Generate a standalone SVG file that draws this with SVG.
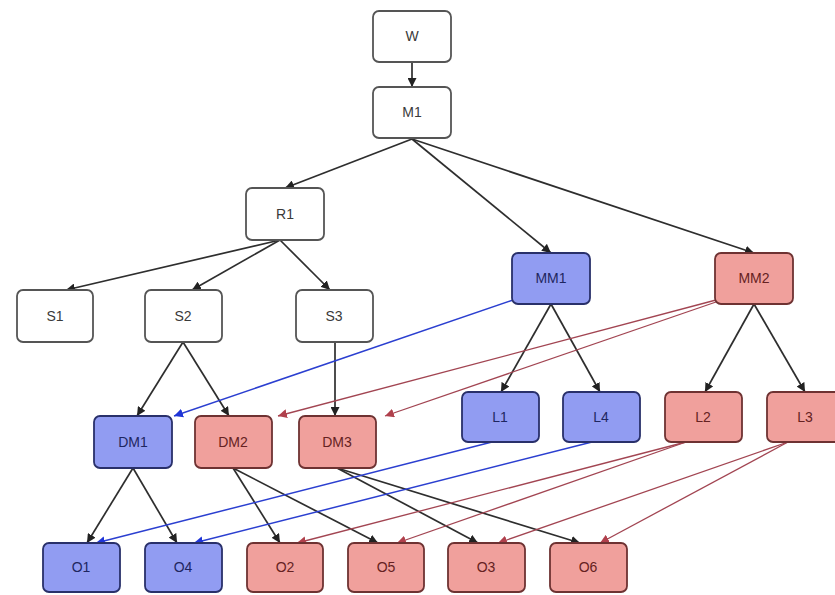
<svg xmlns="http://www.w3.org/2000/svg" width="835" height="595" viewBox="0 0 835 595">
<style>
.n rect{stroke-width:1.8}
.w rect{fill:#ffffff;stroke:#555555}
.b rect{fill:#919cf2;stroke:#29306a}
.r rect{fill:#f0a09c;stroke:#6e3232}
text{font-family:"Liberation Sans",Arial,sans-serif;font-size:14px;text-anchor:middle;dominant-baseline:central}
.w text{fill:#3a3a3a}
.b text{fill:#1e2660}
.r text{fill:#652222}
.k{stroke:#2e2e2e;stroke-width:1.7;fill:none;marker-end:url(#ak)}
.bl{stroke:#2b3fd0;stroke-width:1.5;fill:none;marker-end:url(#ab)}
.rd{stroke:#a24552;stroke-width:1.3;fill:none;marker-end:url(#ar)}
</style>
<defs>
<marker id="ak" viewBox="0 0 10 10" refX="10" refY="5" markerWidth="9" markerHeight="9" markerUnits="userSpaceOnUse" orient="auto"><path d="M0,0L10,5L0,10z" fill="#222222"/></marker>
<marker id="ab" viewBox="0 0 10 10" refX="10" refY="5" markerWidth="9" markerHeight="9" markerUnits="userSpaceOnUse" orient="auto"><path d="M0,0L10,5L0,10z" fill="#1f35d8"/></marker>
<marker id="ar" viewBox="0 0 10 10" refX="10" refY="5" markerWidth="9" markerHeight="9" markerUnits="userSpaceOnUse" orient="auto"><path d="M0,0L10,5L0,10z" fill="#b0404c"/></marker>
</defs>
<g id="edges">
<line class="k" x1="412" y1="62" x2="412" y2="87"/>
<line class="k" x1="412" y1="139" x2="285" y2="188"/>
<line class="k" x1="412" y1="139" x2="551" y2="253"/>
<line class="k" x1="412" y1="139" x2="754" y2="253"/>
<line class="k" x1="280" y1="240" x2="66" y2="290"/>
<line class="k" x1="280" y1="240" x2="192" y2="290"/>
<line class="k" x1="280" y1="240" x2="330" y2="290"/>
<line class="k" x1="183" y1="342" x2="137" y2="416"/>
<line class="k" x1="183" y1="342" x2="229" y2="416"/>
<line class="k" x1="335" y1="342" x2="335" y2="416"/>
<line class="k" x1="551" y1="304" x2="501" y2="392"/>
<line class="k" x1="551" y1="304" x2="600" y2="392"/>
<line class="k" x1="754" y1="304" x2="705" y2="392"/>
<line class="k" x1="754" y1="304" x2="805" y2="392"/>
<line class="k" x1="133" y1="468" x2="87" y2="543"/>
<line class="k" x1="133" y1="468" x2="177" y2="543"/>
<line class="k" x1="233" y1="468" x2="280" y2="543"/>
<line class="k" x1="233" y1="468" x2="378" y2="543"/>
<line class="k" x1="337" y1="468" x2="478" y2="543"/>
<line class="k" x1="337" y1="468" x2="580" y2="543"/>
<line class="bl" x1="513" y1="300" x2="174" y2="416"/>
<line class="rd" x1="716" y1="300" x2="278" y2="416"/>
<line class="rd" x1="716" y1="302" x2="385" y2="416"/>
<line class="bl" x1="492" y1="442" x2="96" y2="543"/>
<line class="bl" x1="592" y1="442" x2="194" y2="543"/>
<line class="rd" x1="686" y1="442" x2="297" y2="543"/>
<line class="rd" x1="686" y1="442" x2="397" y2="543"/>
<line class="rd" x1="788" y1="442" x2="498" y2="543"/>
<line class="rd" x1="788" y1="442" x2="600" y2="543"/>
</g>
<g id="W" class="n w"><rect x="373" y="11" width="78" height="51" rx="6"/><text x="412" y="36">W</text></g>
<g id="M1" class="n w"><rect x="373" y="87" width="78" height="51" rx="6"/><text x="412" y="112">M1</text></g>
<g id="R1" class="n w"><rect x="246" y="188" width="78" height="52" rx="6"/><text x="285" y="214">R1</text></g>
<g id="S1" class="n w"><rect x="17" y="290" width="76" height="52" rx="6"/><text x="55" y="316">S1</text></g>
<g id="S2" class="n w"><rect x="145" y="290" width="77" height="52" rx="6"/><text x="183" y="316">S2</text></g>
<g id="S3" class="n w"><rect x="296" y="290" width="77" height="52" rx="6"/><text x="334" y="316">S3</text></g>
<g id="MM1" class="n b"><rect x="512" y="253" width="78" height="51" rx="6"/><text x="551" y="278">MM1</text></g>
<g id="MM2" class="n r"><rect x="715" y="253" width="78" height="51" rx="6"/><text x="754" y="278">MM2</text></g>
<g id="DM1" class="n b"><rect x="94" y="416" width="78" height="52" rx="6"/><text x="133" y="442">DM1</text></g>
<g id="DM2" class="n r"><rect x="195" y="416" width="77" height="52" rx="6"/><text x="233" y="442">DM2</text></g>
<g id="DM3" class="n r"><rect x="299" y="416" width="77" height="52" rx="6"/><text x="337" y="442">DM3</text></g>
<g id="L1" class="n b"><rect x="462" y="392" width="77" height="50" rx="6"/><text x="500" y="417">L1</text></g>
<g id="L4" class="n b"><rect x="563" y="392" width="77" height="50" rx="6"/><text x="601" y="417">L4</text></g>
<g id="L2" class="n r"><rect x="665" y="392" width="77" height="50" rx="6"/><text x="703" y="417">L2</text></g>
<g id="L3" class="n r"><rect x="767" y="392" width="77" height="50" rx="6"/><text x="805" y="417">L3</text></g>
<g id="O1" class="n b"><rect x="43" y="543" width="77" height="49" rx="6"/><text x="81" y="567">O1</text></g>
<g id="O4" class="n b"><rect x="145" y="543" width="77" height="49" rx="6"/><text x="183" y="567">O4</text></g>
<g id="O2" class="n r"><rect x="247" y="543" width="76" height="49" rx="6"/><text x="285" y="567">O2</text></g>
<g id="O5" class="n r"><rect x="348" y="543" width="76" height="49" rx="6"/><text x="386" y="567">O5</text></g>
<g id="O3" class="n r"><rect x="448" y="543" width="77" height="49" rx="6"/><text x="486" y="567">O3</text></g>
<g id="O6" class="n r"><rect x="550" y="543" width="77" height="49" rx="6"/><text x="588" y="567">O6</text></g>
</svg>
